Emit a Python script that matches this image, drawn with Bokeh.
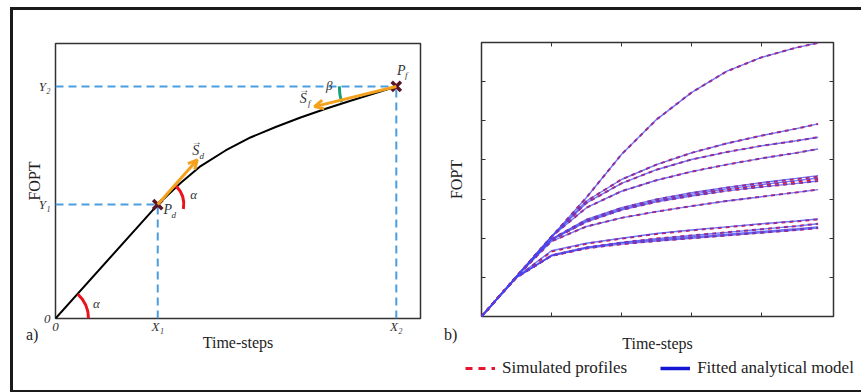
from bokeh.plotting import figure
from bokeh.models import (Range1d, FixedTicker, LinearAxis, Label, Arrow, OpenHead,
                          Legend, LegendItem, Div)
from bokeh.embed import file_html
from bokeh.resources import INLINE

SERIF = "Liberation Serif"

# ---------------- Panel a) data ----------------
a_time = [0.0, 3.0, 3.67, 4.26, 4.99, 5.72, 6.46, 7.19, 7.93, 8.66, 9.39, 10.0]
a_fopt = [0.0, 4.91, 5.84, 6.57, 7.24, 7.80, 8.25, 8.66, 9.04, 9.38, 9.71, 10.0]
X1, X2 = 3.0, 10.0
Y1, Y2 = 4.91, 10.0
x_ticks_a = [0.0, X1, X2]
x_labels_a = ["0", "X\u2081", "X\u2082"]
y_ticks_a = [0.0, Y1, Y2]
y_labels_a = ["0", "Y\u2081", "Y\u2082"]
sd_arrow = [X1, Y1, 4.16, 6.84]     # start x, start y, end x, end y
sf_arrow = [X2, Y2, 7.6, 9.13]

# ---------------- Panel b) data ----------------
b_time = [0.0, 0.5, 1.0, 1.5, 2.0, 2.5, 3.0, 3.5, 4.0, 4.5, 4.81]
fit_1 = [0, 1.02, 2.04, 3.04, 4.14, 5.03, 5.72, 6.26, 6.62, 6.87, 6.99]
fit_2 = [0, 1.02, 2.04, 2.95, 3.50, 3.88, 4.18, 4.42, 4.62, 4.80, 4.92]
fit_3 = [0, 1.02, 2.04, 2.90, 3.40, 3.75, 4.01, 4.20, 4.36, 4.49, 4.58]
fit_4 = [0, 1.02, 2.04, 2.78, 3.20, 3.48, 3.70, 3.88, 4.04, 4.18, 4.28]
fit_5 = [0, 1.02, 1.98, 2.48, 2.78, 3.00, 3.16, 3.30, 3.42, 3.53, 3.60]
fit_6 = [0, 1.02, 1.97, 2.45, 2.75, 2.96, 3.12, 3.26, 3.37, 3.47, 3.54]
fit_7 = [0, 1.02, 1.96, 2.42, 2.72, 2.93, 3.08, 3.21, 3.31, 3.40, 3.46]
fit_8 = [0, 1.02, 1.92, 2.30, 2.52, 2.68, 2.82, 2.95, 3.06, 3.17, 3.24]
fit_9 = [0, 1.00, 1.68, 1.87, 2.00, 2.12, 2.21, 2.29, 2.37, 2.44, 2.49]
fit_10 = [0, 1.00, 1.55, 1.76, 1.89, 1.99, 2.07, 2.15, 2.23, 2.31, 2.37]
fit_11 = [0, 1.00, 1.57, 1.77, 1.88, 1.96, 2.03, 2.10, 2.17, 2.24, 2.29]
fit_12 = [0, 1.00, 1.55, 1.74, 1.85, 1.93, 2.00, 2.07, 2.14, 2.21, 2.26]
sim_1 = [0, 1.02, 2.04, 3.04, 4.14, 5.03, 5.72, 6.26, 6.62, 6.87, 6.99]
sim_2 = [0, 1.02, 2.04, 2.95, 3.50, 3.88, 4.18, 4.42, 4.62, 4.80, 4.92]
sim_3 = [0, 1.02, 2.04, 2.90, 3.40, 3.75, 4.01, 4.20, 4.36, 4.49, 4.58]
sim_4 = [0, 1.02, 2.04, 2.78, 3.20, 3.48, 3.70, 3.88, 4.04, 4.18, 4.28]
sim_5 = [0, 1.02, 1.98, 2.47, 2.77, 2.99, 3.15, 3.29, 3.41, 3.51, 3.57]
sim_6 = [0, 1.02, 1.96, 2.44, 2.74, 2.95, 3.10, 3.24, 3.35, 3.45, 3.51]
sim_7 = [0, 1.02, 1.96, 2.42, 2.72, 2.93, 3.08, 3.21, 3.31, 3.40, 3.46]
sim_8 = [0, 1.02, 1.92, 2.30, 2.52, 2.68, 2.82, 2.95, 3.06, 3.17, 3.24]
sim_9 = [0, 1.00, 1.66, 1.86, 1.99, 2.11, 2.20, 2.28, 2.36, 2.43, 2.48]
sim_10 = [0, 1.00, 1.55, 1.76, 1.89, 1.99, 2.07, 2.15, 2.23, 2.31, 2.37]
sim_11 = [0, 1.00, 1.56, 1.75, 1.86, 1.94, 2.01, 2.08, 2.15, 2.22, 2.27]
sim_12 = [0, 1.00, 1.55, 1.74, 1.85, 1.93, 2.00, 2.07, 2.14, 2.21, 2.26]
fitted = [fit_1, fit_2, fit_3, fit_4, fit_5, fit_6, fit_7, fit_8, fit_9, fit_10, fit_11, fit_12]
simulated = [sim_1, sim_2, sim_3, sim_4, sim_5, sim_6, sim_7, sim_8, sim_9, sim_10, sim_11, sim_12]
b_xticks = [1, 2, 3, 4]
b_yticks = [1, 2, 3, 4, 5, 6]
legend_labels = ["Simulated profiles", "Fitted analytical model"]


def lab(p, x, y, text, dx, dy, size="13px", style="italic", color="#333333"):
    p.add_layout(Label(x=x, y=y, x_offset=dx, y_offset=dy, text=text, text_font=SERIF,
                       text_font_size=size, text_font_style=style, text_color=color,
                       text_align="center", text_baseline="middle"))


# ---------------- Panel a) ----------------
p1 = figure(width=430, height=392, output_backend="svg", toolbar_location=None,
            x_range=Range1d(0, 10.71), y_range=Range1d(0, 11.85),
            min_border_left=55, min_border_right=10, min_border_top=43, min_border_bottom=74)
p1.grid.visible = False
p1.outline_line_color = "#333333"
p1.outline_line_width = 1.5

for ax in (p1.xaxis[0], p1.yaxis[0]):
    ax.axis_line_color = None
    ax.major_tick_line_color = None
    ax.major_tick_in = 0
    ax.major_tick_out = 0
    ax.minor_tick_line_color = None
    ax.minor_tick_in = 0
    ax.minor_tick_out = 0
    ax.major_label_text_font = SERIF
    ax.major_label_text_font_size = "13px"
    ax.major_label_text_font_style = "italic"
    ax.major_label_text_color = "#333333"
    ax.axis_label_text_font = SERIF
    ax.axis_label_text_font_size = "16px"
    ax.axis_label_text_font_style = "normal"
    ax.axis_label_text_color = "#222222"
p1.xaxis.ticker = FixedTicker(ticks=x_ticks_a)
p1.xaxis.major_label_overrides = dict(zip(x_ticks_a, x_labels_a))
p1.yaxis.ticker = FixedTicker(ticks=y_ticks_a)
p1.yaxis.major_label_overrides = dict(zip(y_ticks_a, y_labels_a))
p1.xaxis.axis_label = "Time-steps"
p1.yaxis.axis_label = "FOPT"
p1.xaxis.major_label_standoff = 0
p1.xaxis.axis_label_standoff = -3
p1.yaxis.major_label_standoff = 5
p1.yaxis.axis_label_standoff = -7

p1.segment(x0=[0, X1, 0, X2], y0=[Y1, 0, Y2, 0], x1=[X1, X1, X2, X2], y1=[Y1, Y1, Y2, Y2],
           line_color="#4a9ee0", line_width=2, line_dash="8 5")
p1.line(a_time, a_fopt, line_color="black", line_width=2)

ORANGE = "#f4a21e"
for arr in (sd_arrow, sf_arrow):
    p1.add_layout(Arrow(end=OpenHead(size=9, line_color=ORANGE, line_width=3),
                        x_start=arr[0], y_start=arr[1], x_end=arr[2], y_end=arr[3],
                        line_color=ORANGE, line_width=3))

p1.arc(x=[0], y=[0], radius=33, radius_units="screen", start_angle=0, end_angle=0.83,
       line_color="#e8131b", line_width=3)
p1.arc(x=[X1], y=[Y1], radius=26, radius_units="screen", start_angle=-0.17, end_angle=0.80,
       line_color="#e8131b", line_width=3)
p1.arc(x=[X2], y=[Y2], radius=57, radius_units="screen", start_angle=3.14, end_angle=3.42,
       line_color="#16a07a", line_width=3)

p1.scatter([X1, X2], [Y1, Y2], marker="x", size=13, line_width=3.5, line_color="#5a1426")

lab(p1, 0, 0, "\u03b1", 41, 15)
lab(p1, X1, Y1, "\u03b1", 36, 10)
lab(p1, X2, Y2, "\u03b2", -67, 1)
lab(p1, X1, Y1, "P", 10, -5, "14px")
lab(p1, X1, Y1, "d", 16, -10, "9px")
lab(p1, X2, Y2, "P", 5, 16, "14px")
lab(p1, X2, Y2, "f", 10, 11, "9px")
lab(p1, X1, Y1, "S", 38, 54, "14px")
lab(p1, X1, Y1, "d", 44, 49, "9px")
lab(p1, X1, Y1, "\u2192", 39, 63, "10px", "normal")
lab(p1, X2, Y2, "S", -93, -12, "14px")
lab(p1, X2, Y2, "f", -87, -17, "9px")
lab(p1, X2, Y2, "\u2192", -92, -3, "10px", "normal")

# ---------------- Panel b) ----------------
p2 = figure(width=431, height=392, output_backend="svg", toolbar_location=None,
            x_range=Range1d(0, 5.03), y_range=Range1d(0, 7.0),
            min_border_left=51, min_border_right=28, min_border_top=42, min_border_bottom=76)
p2.grid.visible = False
p2.outline_line_color = "#333333"
p2.outline_line_width = 1.5
p2.styles = {"position": "absolute", "left": "430px", "top": "0px"}


def style_box_axis(ax):
    ax.axis_line_color = None
    ax.major_tick_in = 4
    ax.major_tick_out = 0
    ax.major_tick_line_color = "#333333"
    ax.major_tick_line_width = 1
    ax.minor_tick_line_color = None
    ax.minor_tick_in = 0
    ax.minor_tick_out = 0
    ax.major_label_text_font_size = "1px"
    ax.major_label_text_color = None
    ax.major_label_standoff = 0


bottom_ax = p2.below[0]
left_ax = p2.left[0]
style_box_axis(bottom_ax)
style_box_axis(left_ax)
bottom_ax.ticker = FixedTicker(ticks=b_xticks)
left_ax.ticker = FixedTicker(ticks=b_yticks)
top_ax = LinearAxis(ticker=FixedTicker(ticks=b_xticks))
right_ax = LinearAxis(ticker=FixedTicker(ticks=b_yticks))
style_box_axis(top_ax)
style_box_axis(right_ax)
p2.add_layout(top_ax, "above")
p2.add_layout(right_ax, "right")
for ax in (bottom_ax, left_ax):
    ax.axis_label_text_font = SERIF
    ax.axis_label_text_font_size = "16px"
    ax.axis_label_text_font_style = "normal"
    ax.axis_label_text_color = "#222222"
bottom_ax.axis_label = "Time-steps"
left_ax.axis_label = "FOPT"
bottom_ax.axis_label_standoff = 18
left_ax.axis_label_standoff = 17

for s in simulated:
    p2.line(b_time, s, line_color="#e4152f", line_width=2, line_dash="4 4")
for f in fitted:
    p2.line(b_time, f, line_color="#4646f2", line_width=1.4, line_alpha=0.75)

# ---------------- legend strip ----------------
p3 = figure(width=396, height=32, output_backend="svg", toolbar_location=None,
            x_range=Range1d(0, 1), y_range=Range1d(0, 1),
            x_axis_type=None, y_axis_type=None, min_border=0)
p3.grid.visible = False
p3.outline_line_color = None
p3.styles = {"position": "absolute", "left": "465px", "top": "358px"}
# legend-only renderers: their points lie outside the strip's visible range
leg_sim = p3.line([2, 3], [2, 3], line_color="#e4152f", line_width=3, line_dash="7 6")
leg_fit = p3.line([2, 3], [2, 3], line_color="#1515d4", line_width=3.5)
legend = Legend(items=[LegendItem(label=legend_labels[0], renderers=[leg_sim]),
                       LegendItem(label=legend_labels[1], renderers=[leg_fit])],
                orientation="horizontal", location="top_left",
                label_text_font=SERIF, label_text_font_size="17px", label_text_color="#222222",
                glyph_width=30, glyph_height=16, spacing=33, label_standoff=7,
                border_line_color=None, background_fill_alpha=0, padding=6, margin=0)
p3.add_layout(legend)

# ---------------- panel tags and outer frame ----------------
tag_style = {"position": "absolute", "font-family": SERIF, "font-size": "16px",
             "color": "#222222", "line-height": "18px"}
tag_a = Div(text="a)", styles=dict(tag_style, left="21px", top="321px"))
tag_b = Div(text="b)", styles=dict(tag_style, left="439px", top="321px"))
frame = Div(text="", width=853, height=380,
            styles={"position": "absolute", "left": "5px", "top": "2px",
                    "border": "3px solid #1a1a1a", "border-right": "none",
                    "box-sizing": "content-box", "pointer-events": "none"})

open("out.html", "w").write(file_html((p1, p2, p3, tag_a, tag_b, frame), INLINE))
